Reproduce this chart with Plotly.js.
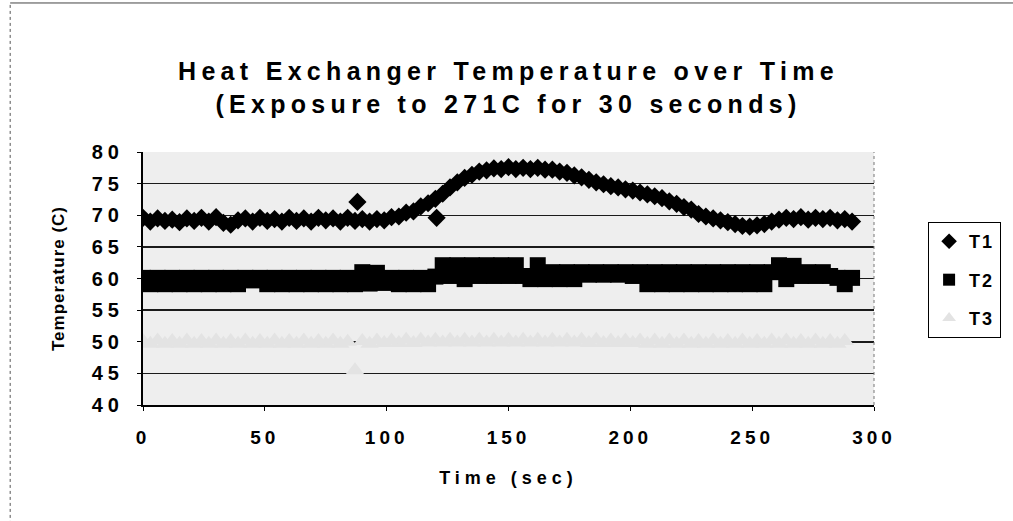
<!DOCTYPE html>
<html>
<head>
<meta charset="utf-8">
<script src="https://cdn.plot.ly/plotly-3.0.1.min.js"></script>
<style>
html, body { margin: 0; padding: 0; background: #ffffff; }
#chart { width: 1013px; height: 521px; }
.gtitle { letter-spacing: 5.3px; }
.xtitle { letter-spacing: 5px; }
.ytitle { letter-spacing: 1px; }
.xtick > text { letter-spacing: 4px; }
.ytick > text { letter-spacing: 5px; }
.legendtext { letter-spacing: 2px; }
</style>
</head>
<body>
<div id="chart"></div>
<script>
// Time (sec), sampled every 3 s
const timeSec = [0,3,6,9,12,15,18,21,24,27,
  30,33,36,39,42,45,48,51,54,57,
  60,63,66,69,72,75,78,81,84,87,
  90,93,96,99,102,105,108,111,114,117,
  120,123,126,129,132,135,138,141,144,147,
  150,153,156,159,162,165,168,171,174,177,
  180,183,186,189,192,195,198,201,204,207,
  210,213,216,219,222,225,228,231,234,237,
  240,243,246,249,252,255,258,261,264,267,
  270,273,276,279,282,285,288,291];

const seriesNames = ["T1", "T2", "T3"];

const t1 = [69.6,69.0,69.5,69.1,69.3,68.9,69.5,69.1,69.6,69.0,
  69.7,68.8,68.5,69.2,69.5,69.0,69.6,69.1,69.4,69.0,
  69.6,69.1,69.5,69.0,69.6,69.2,69.5,69.0,69.6,69.1,
  69.4,69.0,69.4,69.2,69.7,69.8,70.4,70.6,71.4,71.9,
  72.6,73.4,74.4,75.2,75.9,76.4,76.9,77.1,77.4,77.3,
  77.6,77.3,77.5,77.3,77.5,77.2,77.2,76.9,76.7,76.3,
  76.0,75.6,75.2,74.9,74.6,74.4,74.1,73.9,73.6,73.3,
  73.0,72.7,72.2,71.8,71.3,70.9,70.2,69.8,69.5,69.2,
  68.9,68.6,68.3,68.2,68.4,68.6,69.0,69.3,69.6,69.4,
  69.7,69.3,69.6,69.4,69.6,69.2,69.4,69.0];
// two stray T1 readings
const t1OutlierTime = [88, 120.5];
const t1Outlier = [72.1, 69.6];

const t2 = [60.1,59.1,60.1,59.1,60.1,59.1,60.1,59.1,60.1,59.1,
  60.1,59.1,60.1,59.1,60.1,59.7,60.1,59.1,60.1,59.1,
  60.1,59.1,60.1,59.1,60.1,59.1,60.1,59.1,60.1,59.1,
  61.0,59.2,60.9,59.3,60.1,59.1,60.1,59.1,60.1,59.1,
  60.3,62.1,60.4,62.1,59.9,62.1,60.4,62.1,60.4,62.1,
  60.4,62.1,60.4,59.9,62.1,59.9,61.0,59.9,61.0,59.9,
  61.0,60.6,61.0,60.6,61.0,60.6,61.0,60.4,61.0,59.1,
  61.0,59.1,61.0,59.1,61.0,59.1,61.0,59.1,61.0,59.1,
  61.0,59.1,61.0,59.1,61.0,59.1,61.0,62.1,59.9,62.0,
  60.4,61.0,60.4,61.0,60.4,60.1,59.1,60.1];

const t3 = [50.1,49.7,50.2,49.7,50.1,49.7,50.2,49.7,50.1,49.7,
  50.2,49.7,50.1,49.7,50.2,49.7,50.1,49.7,50.2,49.7,
  50.1,49.7,50.2,49.7,50.1,49.7,50.2,49.7,50.0,45.5,
  50.1,49.7,50.2,49.8,50.2,49.8,50.3,49.8,50.3,49.9,
  50.3,49.9,50.3,49.9,50.3,49.9,50.3,49.9,50.3,49.9,
  50.3,49.9,50.3,49.9,50.3,49.9,50.3,49.9,50.3,49.9,
  50.3,49.8,50.3,49.8,50.2,49.8,50.2,49.8,50.2,49.7,
  50.2,49.7,50.2,49.7,50.2,49.7,50.1,49.7,50.2,49.7,
  50.1,49.7,50.2,49.7,50.1,49.7,50.2,49.7,50.2,49.7,
  50.1,49.7,50.2,49.7,50.1,49.7,50.1,null];

const xTickVals = [0, 50, 100, 150, 200, 250, 300];
const yTickVals = [40, 45, 50, 55, 60, 65, 70, 75, 80];

const FONT = "Liberation Sans, Arial, sans-serif";

const traces = [
  {
    name: seriesNames[0], legendgroup: "g1",
    x: timeSec.concat(t1OutlierTime), y: t1.concat(t1Outlier),
    type: "scatter", mode: "markers",
    marker: { symbol: "diamond", size: 14, color: "#000000", line: { width: 0 } }
  },
  {
    name: seriesNames[1], legendgroup: "g2",
    x: timeSec, y: t2,
    type: "scatter", mode: "markers",
    marker: { symbol: "square", size: 16, color: "#000000", line: { width: 0 } }
  },
  {
    name: seriesNames[2], legendgroup: "g3",
    x: timeSec, y: t3,
    type: "scatter", mode: "markers",
    marker: { symbol: "triangle-up", size: 16, color: "#e3e3e3", line: { width: 0 } }
  }
];

const layout = {
  width: 1013, height: 521,
  margin: { l: 143, r: 127, t: 152, b: 116, pad: 0 },
  paper_bgcolor: "#ffffff",
  plot_bgcolor: "#eeeeee",
  font: { family: FONT, color: "#000000" },
  showlegend: true,
  title: {
    text: "Heat Exchanger Temperature over Time<br>(Exposure to 271C for 30 seconds)",
    font: { family: FONT, size: 25, weight: "bold", color: "#000000" },
    x: 0.5, xref: "paper", xanchor: "center",
    y: 0.846, yref: "container", yanchor: "top"
  },
  xaxis: {
    range: [0, 300], tickvals: xTickVals, ticktext: xTickVals.map(String),
    showgrid: false, zeroline: false,
    showline: true, linecolor: "#000000", linewidth: 2,
    ticks: "outside", ticklen: 4, tickwidth: 1, tickcolor: "#000000",
    ticklabelstandoff: 10,
    tickfont: { family: FONT, size: 19, weight: "bold", color: "#000000" },
    title: { text: "Time (sec)", font: { family: FONT, size: 18, weight: "bold", color: "#000000" }, standoff: 25 },
    automargin: false, fixedrange: true
  },
  yaxis: {
    range: [40, 80], tickvals: yTickVals, ticktext: yTickVals.map(String),
    showgrid: true, gridcolor: "#1a1a1a", gridwidth: 1.5,
    zeroline: false,
    showline: true, linecolor: "#000000", linewidth: 2,
    ticks: "outside", ticklen: 4, tickwidth: 1, tickcolor: "#000000",
    ticklabelstandoff: 9,
    tickfont: { family: FONT, size: 20, weight: "bold", color: "#000000" },
    title: { text: "Temperature (C)", font: { family: FONT, size: 17, weight: "bold", color: "#000000" }, standoff: 23 },
    automargin: false, fixedrange: true
  },
  legend: {
    x: 1.074, xanchor: "left", xref: "paper",
    y: 0.723, yanchor: "top", yref: "paper",
    traceorder: "grouped",
    bgcolor: "#ffffff", bordercolor: "#000000", borderwidth: 1,
    font: { family: FONT, size: 18, weight: "bold", color: "#000000" },
    tracegroupgap: 12, itemsizing: "constant"
  },
  shapes: [
    { type: "line", xref: "paper", yref: "paper", x0: 1, x1: 1, y0: 0, y1: 1,
      line: { color: "#777777", width: 1, dash: "dot" } },
    { type: "line", xref: "paper", yref: "paper", x0: -0.1817, x1: -0.1817, y0: -0.47, y1: 1.589,
      line: { color: "#555555", width: 1, dash: "dot" } },
    { type: "line", xref: "paper", yref: "paper", x0: -0.1817, x1: 1.2, y0: 1.589, y1: 1.589,
      line: { color: "#444444", width: 1 } }
  ]
};

Plotly.newPlot("chart", traces, layout, { displayModeBar: false, staticPlot: true });
</script>
</body>
</html>
